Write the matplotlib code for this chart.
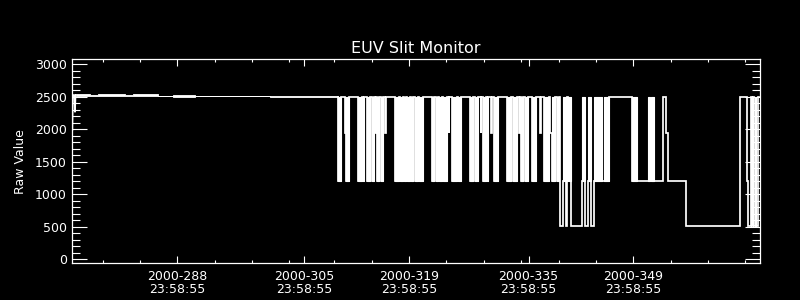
import matplotlib
matplotlib.use("Agg")
import matplotlib.pyplot as plt
from matplotlib.ticker import MultipleLocator

# ---------------- data ----------------
title = "EUV Slit Monitor"
y_label = "Raw Value"

major_days = [288, 305, 319, 335, 349]
major_labels = ["2000-288\n23:58:55", "2000-305\n23:58:55", "2000-319\n23:58:55",
                "2000-335\n23:58:55", "2000-349\n23:58:55"]
minor_days = [278, 283, 288, 293, 298, 303, 309, 314, 319, 324, 329, 334,
              339, 344, 349, 354, 359, 364]

# start-up transient (day of year, raw value)
start_t = [273.95, 274.02, 274.25, 274.31, 274.38]
start_v = [1990, 2530, 2520, 2270, 2530]

# quiet period: min / max envelope of the dense samples
quiet_t = [274.38, 276.32, 277.39, 281.00, 282.07, 285.42, 287.42, 290.37, 300.40, 309.50]
quiet_lo = [2505, 2515, 2505, 2515, 2505, 2512, 2503, 2508, 2498]
quiet_hi = [2540, 2525, 2540, 2525, 2538, 2520, 2535, 2514, 2512]

# switching period: level changes (breakpoints), level, rapid-oscillation flag
step_t = [309.50, 309.56, 309.90, 310.43, 310.50, 310.57, 310.97, 312.17, 312.71, 312.88,
          313.02, 313.34, 313.78, 314.01, 314.35, 314.51, 314.58, 314.68, 314.98, 315.21,
          315.56, 315.78, 315.85, 317.16, 317.70, 317.79, 318.13, 318.33, 318.55, 318.77,
          319.13, 319.26, 319.57, 319.76, 320.20, 320.37, 320.87, 322.07, 322.38, 322.61,
          322.88, 323.05, 323.41, 323.58, 324.04, 324.35, 324.41, 324.79, 325.38, 325.55,
          325.95, 327.16, 327.60, 327.83, 328.19, 328.56, 328.63, 328.86, 329.26, 329.39,
          329.61, 330.03, 330.10, 330.41, 330.94, 332.07, 332.64, 332.95, 333.40, 333.71,
          333.78, 333.94, 334.29, 334.51, 334.88, 335.45, 335.92, 336.52, 336.59, 337.06,
          337.66, 337.86, 338.13, 338.53, 338.75, 339.10, 339.20, 339.64, 340.00, 340.17,
          340.31, 340.60, 342.14, 342.54, 342.94, 343.30, 343.75, 344.78, 345.08, 345.69,
          348.83, 349.46, 351.01, 351.24, 351.37, 351.77, 352.91, 353.31, 353.58, 356.05,
          363.34, 364.15, 364.25, 364.37, 364.68, 364.82, 365.06, 365.19, 365.35, 365.48,
          365.68, 365.88]
step_v = [2500, 1200, 2500, 1950, 2500, 1200, 2500, 1200, 2500, 1200,
          2500, 1200, 2500, 1200, 2500, 1950, 2500, 1200, 2500, 1200,
          2500, 1950, 2500, 1200, 2500, 1200, 2500, 1200, 2500, 1200,
          2500, 1200, 2500, 1200, 2500, 1200, 2500, 1200, 2500, 1200,
          2500, 1200, 2500, 1200, 2500, 1950, 2500, 1200, 2500, 1200,
          2500, 1200, 2500, 1200, 2500, 1950, 2500, 1200, 2500, 1200,
          2500, 1950, 2500, 1200, 2500, 1200, 2500, 1200, 2500, 1950,
          2500, 1200, 2500, 1200, 2500, 1200, 2500, 1950, 2500, 1200,
          2500, 1950, 1200, 2500, 1200, 2500, 510, 1200, 510, 2500,
          1200, 510, 1200, 510, 1200, 510, 1200, 1200, 1200, 2500,
          1200, 1200, 1200, 1200, 1200, 1200, 2500, 1950, 1200, 510,
          2500, 1950, 1200, 510, 2500, 510, 2500, 510, 2500, 510,
          2500]
step_fill = [0, 1, 0, 0, 0, 1, 0, 1, 0, 1,
             0, 1, 0, 1, 0, 0, 0, 1, 0, 1,
             0, 0, 0, 1, 0, 1, 0, 1, 0, 1,
             0, 1, 0, 1, 0, 1, 0, 1, 0, 1,
             0, 1, 0, 1, 0, 0, 0, 1, 0, 1,
             0, 1, 0, 1, 0, 0, 0, 1, 0, 1,
             0, 0, 0, 1, 0, 1, 0, 1, 0, 0,
             0, 1, 0, 1, 0, 1, 0, 0, 0, 1,
             0, 0, 1, 0, 1, 0, 0, 1, 0, 0,
             1, 0, 1, 0, 1, 0, 1, 0, 1, 0,
             1, 0, 1, 0, 1, 0, 0, 0, 0, 0,
             0, 0, 0, 0, 0, 0, 0, 0, 0, 0,
             0]
osc_top = 2500

# ---------------- figure ----------------
fg = "white"
plt.rcParams["font.family"] = ["DejaVu Sans"]
fig = plt.figure(figsize=(8, 3), dpi=100, facecolor="black")
ax = fig.add_axes([0.09, 0.1223, 0.86, 0.68], facecolor="black")

lw = 1.25
# start transient
ax.plot(start_t, start_v, color=fg, lw=lw)
# quiet envelope
ax.fill_between(quiet_t, quiet_lo + [quiet_lo[-1]], quiet_hi + [quiet_hi[-1]],
                step="post", color=fg, lw=0.6)
# switching period as a step trace
xs, ys = [], []
for i, v in enumerate(step_v):
    xs += [step_t[i], step_t[i + 1]]
    ys += [v, v]
ax.plot(xs, ys, color=fg, lw=lw, solid_joinstyle="miter")
for i, v in enumerate(step_v):
    if step_fill[i]:
        ax.fill_between([step_t[i], step_t[i + 1]], [v, v], [osc_top, osc_top],
                        color=fg, lw=0.8)

ax.set_xlim(273.91, 365.95)
ax.set_ylim(-61.5, 3077)

ax.set_xticks(major_days)
ax.set_xticklabels(major_labels)
ax.set_xticks(minor_days, minor=True)
ax.yaxis.set_major_locator(MultipleLocator(500))
ax.yaxis.set_minor_locator(MultipleLocator(100))

for s in ax.spines.values():
    s.set_color(fg)
    s.set_linewidth(0.9)

ax.tick_params(which="both", direction="in", top=True, right=True,
               colors=fg, labelcolor=fg, width=0.8, labelsize=9)
ax.tick_params(axis="x", which="major", length=5, pad=4.8)
ax.tick_params(axis="x", which="minor", length=2.5)
ax.tick_params(axis="y", which="major", length=10.5, pad=3.8)
ax.tick_params(axis="y", which="minor", length=5.5)
for lbl in ax.get_xticklabels():
    lbl.set_linespacing(1.05)

ax.set_title(title, color=fg, fontsize=11.5, pad=4.8)
ax.set_ylabel(y_label, color=fg, fontsize=9)
ax.yaxis.set_label_coords(-0.0654, 0.5)

fig.savefig("out.png", dpi=100, facecolor="black")
